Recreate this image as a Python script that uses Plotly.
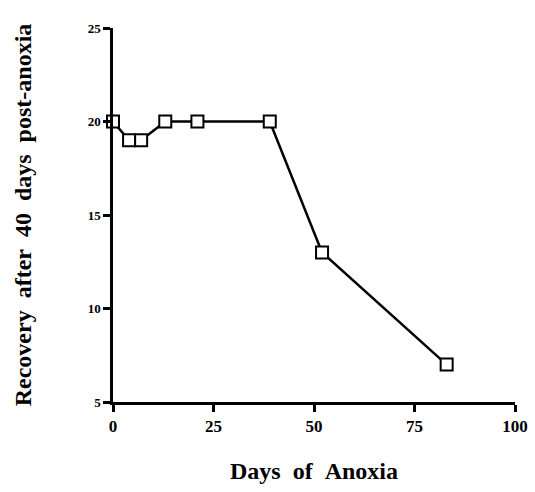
import plotly.graph_objects as go

days = [0, 4, 7, 13, 21, 39, 52, 83]
recovery = [20, 19, 19, 20, 20, 20, 13, 7]
x_ticks = [0, 25, 50, 75, 100]
y_ticks = [5, 10, 15, 20, 25]

font_family = "Liberation Serif, Times New Roman, serif"
sp = "&nbsp;&nbsp;"

fig = go.Figure()
fig.add_trace(go.Scatter(
    x=days, y=recovery, mode="lines+markers",
    line=dict(color="black", width=2.5),
    marker=dict(symbol="square", size=12, color="white",
                line=dict(color="black", width=2)),
    cliponaxis=False, showlegend=False,
))

fig.update_layout(
    width=535, height=492,
    margin=dict(l=113, r=20, t=28, b=90),
    paper_bgcolor="white", plot_bgcolor="white",
    font=dict(family=font_family, color="black"),
    xaxis=dict(
        range=[0, 100], tickvals=x_ticks, ticktext=[f"<b>{v}</b>" for v in x_ticks],
        showgrid=False, zeroline=False, showline=True, linecolor="black", linewidth=2.5,
        ticks="outside", ticklen=7, tickwidth=2.5, tickcolor="black",
        tickfont=dict(size=17, family=font_family), automargin=False,
        title=dict(text=f"<b>Days{sp}of{sp}Anoxia</b>", font=dict(size=24, family=font_family), standoff=28),
    ),
    yaxis=dict(
        range=[5, 25], tickvals=y_ticks, ticktext=[f"<b>{v}</b>" for v in y_ticks],
        showgrid=False, zeroline=False, showline=True, linecolor="black", linewidth=2.5,
        ticks="outside", ticklen=7, tickwidth=2.5, tickcolor="black",
        tickfont=dict(size=13, family=font_family), automargin=False,
        title=dict(text=f"<b>Recovery{sp}after{sp}40{sp}days{sp}post-anoxia</b>",
                   font=dict(size=24, family=font_family), standoff=50),
    ),
)

fig.write_html("out.html")
